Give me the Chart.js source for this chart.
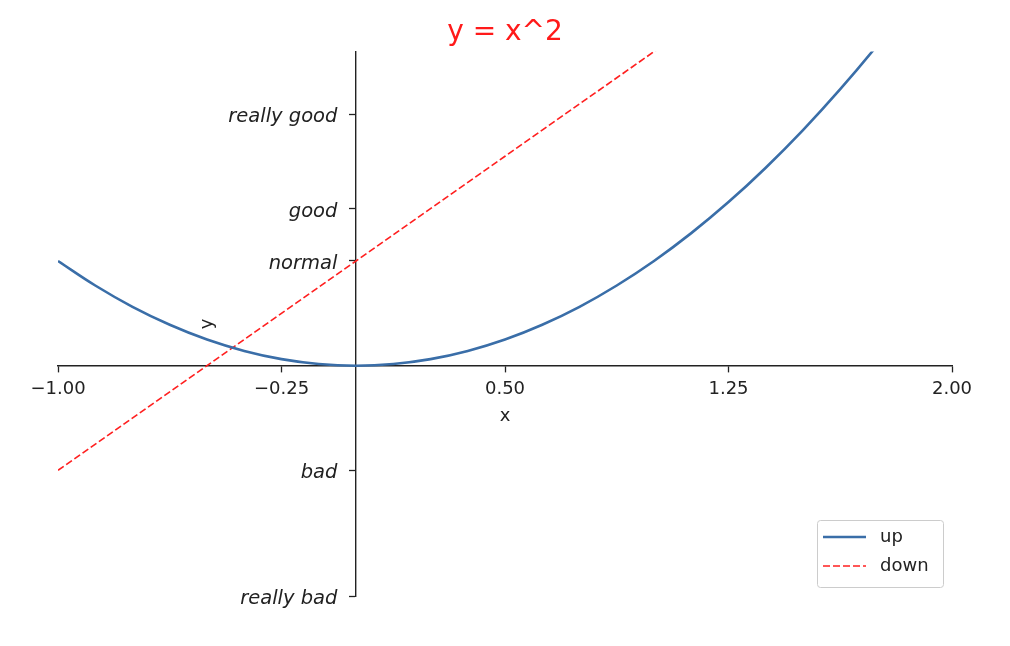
<!DOCTYPE html>
<html><head><meta charset="utf-8">
<script src="https://cdn.jsdelivr.net/npm/chart.js@4/dist/chart.umd.min.js"></script>
<style>html,body{margin:0;padding:0;background:#fff}#wrap{width:1010px;height:646px}</style>
</head><body><div id="wrap"><canvas id="c" width="1010" height="646"></canvas></div>
<script>
// ---- data ----
const upX = [-1, -0.875, -0.75, -0.625, -0.5, -0.375, -0.25, -0.125, 0, 0.125, 0.25, 0.375, 0.5, 0.625, 0.75, 0.875, 1, 1.125, 1.25, 1.375, 1.5, 1.625, 1.75, 1.875, 2];
const upY = [1, 0.766, 0.5625, 0.391, 0.25, 0.141, 0.0625, 0.016, 0, 0.016, 0.0625, 0.141, 0.25, 0.391, 0.5625, 0.766, 1, 1.266, 1.5625, 1.891, 2.25, 2.641, 3.0625, 3.516, 4];
const downX = [-1, -0.5, 0, 0.5, 1, 1.5, 2];
const downY = [-1, 0, 1, 2, 3, 4, 5];
const xTickValues = [-1, -0.25, 0.5, 1.25, 2];
const xTickLabels = ['\u22121.00', '\u22120.25', '0.50', '1.25', '2.00'];
const yTickValues = [-2.2, -1, 1, 1.5, 2.4];
const yTickLabels = ['really bad', 'bad', 'normal', 'good', 'really good'];
const seriesNames = ['up', 'down'];
const titleText = 'y = x^2';
const xAxisName = 'x';
const yAxisName = 'y';

const FONT = 'DejaVu Sans';
const LABEL_GAP = '   '; // keeps y tick labels clear of the tick marks

const pts = (xs, ys) => xs.map((x, i) => ({x: x, y: ys[i]}));

const axisNames = {
  id: 'axisNames',
  afterDraw(chart) {
    const ctx = chart.ctx;
    const xs = chart.scales.x, ys = chart.scales.y;
    const x0 = xs.getPixelForValue(0), y0 = ys.getPixelForValue(0);
    ctx.save();
    ctx.fillStyle = '#222';
    ctx.font = '18px "' + FONT + '"';
    ctx.textAlign = 'center';
    ctx.textBaseline = 'middle';
    ctx.fillText(xAxisName, (chart.chartArea.left + chart.chartArea.right) / 2, y0 + 51);
    ctx.font = 'italic 19.5px "' + FONT + '"';
    let widest = 0;
    yTickLabels.forEach(l => { widest = Math.max(widest, ctx.measureText(l).width); });
    ctx.font = '18px "' + FONT + '"';
    ctx.translate(x0 - 18 - widest - 22, (chart.chartArea.top + chart.chartArea.bottom) / 2);
    ctx.rotate(-Math.PI / 2);
    ctx.fillText(yAxisName, 0, 0);
    ctx.restore();
  }
};

const boxLegend = {
  id: 'boxLegend',
  afterDraw(chart) {
    const ctx = chart.ctx;
    const a = chart.chartArea;
    const w = 126, h = 67;
    const bx = a.right - 9 - w, by = a.bottom - 9 - h;
    ctx.save();
    ctx.beginPath();
    if (ctx.roundRect) ctx.roundRect(bx + 0.5, by + 0.5, w, h, 3); else ctx.rect(bx + 0.5, by + 0.5, w, h);
    ctx.fillStyle = 'rgba(255,255,255,0.85)';
    ctx.fill();
    ctx.strokeStyle = '#cccccc';
    ctx.lineWidth = 1;
    ctx.stroke();
    ctx.font = '18px "' + FONT + '"';
    ctx.textBaseline = 'middle';
    ctx.textAlign = 'left';
    chart.data.datasets.forEach((ds, i) => {
      const cy = by + 17 + i * 29;
      ctx.beginPath();
      ctx.setLineDash(ds.borderDash || []);
      ctx.strokeStyle = ds.borderColor;
      ctx.lineWidth = ds.borderWidth;
      ctx.moveTo(bx + 6, cy);
      ctx.lineTo(bx + 49, cy);
      ctx.stroke();
      ctx.setLineDash([]);
      ctx.fillStyle = '#222';
      ctx.fillText(ds.label, bx + 63, cy);
    });
    ctx.restore();
  }
};

new Chart(document.getElementById('c'), {
  type: 'line',
  data: {
    datasets: [
      {label: seriesNames[0], data: pts(upX, upY), borderColor: '#3a6ea8', borderWidth: 2.6, pointRadius: 0, tension: 0.4, fill: false},
      {label: seriesNames[1], data: pts(downX, downY), borderColor: '#ff2020', borderWidth: 1.7, borderDash: [7, 3], pointRadius: 0, tension: 0, fill: false}
    ]
  },
  options: {
    responsive: false,
    animation: false,
    devicePixelRatio: 1,
    layout: {padding: {left: 58, right: 58, top: 0, bottom: 50}},
    plugins: {
      legend: {display: false},
      tooltip: {enabled: false},
      title: {display: true, text: titleText, color: '#ff1a1a', font: {family: FONT, size: 28, weight: 'normal'}, padding: {top: 16, bottom: 2}}
    },
    scales: {
      x: {
        type: 'linear', position: {y: 0}, min: -1, max: 2,
        afterBuildTicks: s => { s.ticks = xTickValues.map(v => ({value: v})); },
        afterFit: s => { s.height = 0; },
        ticks: {autoSkip: false, maxRotation: 0, color: '#222', padding: 7, font: {family: FONT, size: 18},
          callback: (v, i) => xTickLabels[i]},
        grid: {display: true, drawOnChartArea: false, drawTicks: true, tickLength: 6, tickWidth: 1.3, tickColor: '#222'},
        border: {display: true, color: '#222', width: 1.4}
      },
      y: {
        type: 'linear', position: {x: 0}, min: -2.2, max: 3,
        afterBuildTicks: s => { s.ticks = yTickValues.map(v => ({value: v})); },
        afterFit: s => { s.width = 0; },
        ticks: {autoSkip: false, color: '#222', padding: 6, labelOffset: 3, font: {family: FONT, size: 19.5, style: 'italic'},
          callback: (v, i) => yTickLabels[i] + LABEL_GAP},
        grid: {display: true, drawOnChartArea: false, drawTicks: true, tickLength: 6, tickWidth: 1.3, tickColor: '#222'},
        border: {display: true, color: '#222', width: 1.4}
      }
    }
  },
  plugins: [axisNames, boxLegend]
});
</script>
</body></html>
